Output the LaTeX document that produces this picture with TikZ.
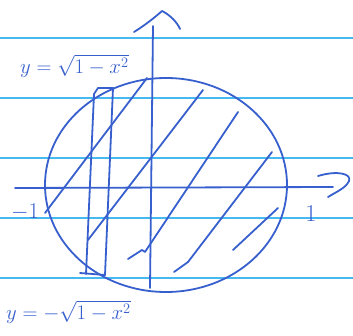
\documentclass[tikz,border=0pt]{standalone}
\usepackage{amsmath}
\usetikzlibrary{shapes.geometric}
\definecolor{pen}{RGB}{55,95,205}
\definecolor{rule}{RGB}{70,185,240}
\tikzset{
  ink/.style={draw=pen, line width=1.8pt, line cap=round, line join=round},
  ruling/.style={draw=rule, line width=1.3pt},
  lbl/.style={text=pen, font=\LARGE, inner sep=0pt},
}
\begin{document}
\begin{tikzpicture}[x=1pt,y=-1pt]
\useasboundingbox (0,0) rectangle (353,336);
% ruled paper
\foreach \yy in {38,98,158,218,278}
  \draw[ruling] (0,\yy) -- (353,\yy);
% circle
\node (c) [ink, ellipse, minimum width=242pt, minimum height=214pt, inner sep=0pt] at (166,185) {};
% axes
\coordinate (xl) at (15,188);
\coordinate (xr) at (333,187);
\coordinate (yb) at (150,288);
\coordinate (yt) at (153,26);
\draw[ink] (xl) -- (xr);
\draw[ink] (yb) -- (yt);
% hand arrow heads
\draw[ink] (318,176) .. controls (338,170) and (352,174) .. (349,181) .. controls (346,188) and (336,192) .. (328,197);
\draw[ink] (134,32) .. controls (142,27) and (152,20) .. (162,11) .. controls (170,15) and (177,22) .. (180,29);
% tick labels
\node (m1) [lbl, scale=1.3] at (25,212) {$-1$};
\node (p1) [lbl, scale=1.4] at (311,214) {$1$};
% vertical strip
\coordinate (s1t) at (94,94);
\coordinate (s1b) at (86,274);
\coordinate (s2t) at (113,88);
\coordinate (s2b) at (105,275);
\draw[ink] (s1t) -- (s1b);
\draw[ink] (s2t) -- (s2b);
\draw[ink] (s1t) -- (98,88) -- (s2t);
\draw[ink] (80,273) -- (s2b);
% hatching
\draw[ink] (45,213) -- (147,78);
\draw[ink] (88,240) -- (203,90);
\draw[ink] (128,259) -- (142,250) -- (145,252) -- (238,112);
\draw[ink] (174,272) -- (188,262) -- (272,152);
\draw[ink] (233,250) -- (278,208);
% labels of the curves
\node (up) [lbl, anchor=west, scale=1.2] at (20,66) {$y=\sqrt{1-x^2}$};
\node (lo) [lbl, anchor=west, scale=1.2] at (6,312) {$y=-\sqrt{1-x^2}$};
\end{tikzpicture}
\end{document}
